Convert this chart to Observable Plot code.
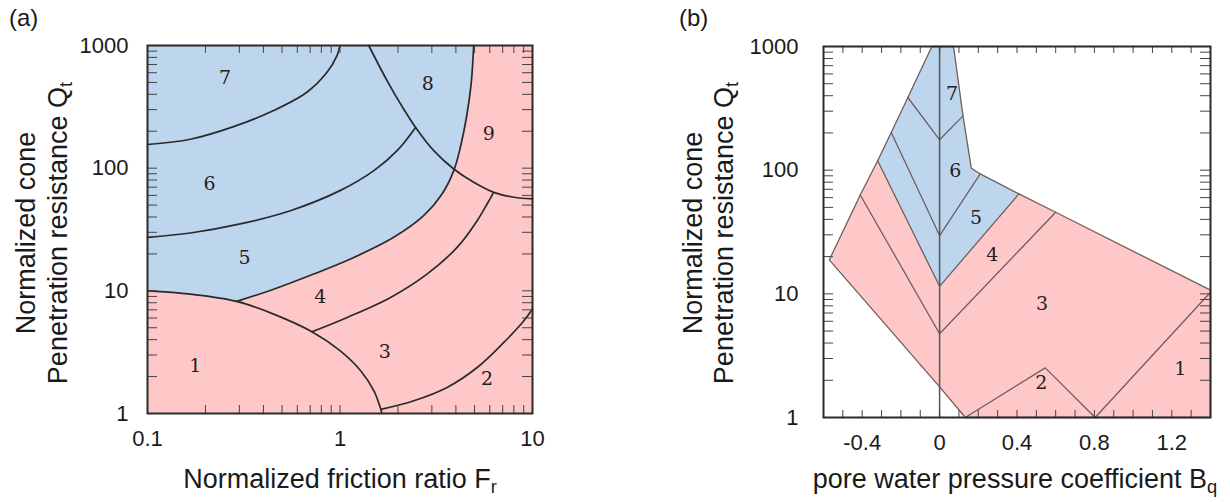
<!DOCTYPE html>
<html><head><meta charset="utf-8">
<script src="https://cdn.jsdelivr.net/npm/d3@7"></script>
<script src="https://cdn.jsdelivr.net/npm/@observablehq/plot@0.6"></script>
<style>
body{margin:0;background:#fff;}
#wrap{position:relative;width:1230px;height:502px;font-family:"Liberation Sans",Arial,sans-serif;color:#1a1a1a;overflow:hidden;}
.svgbox{position:absolute;top:0;}
.lbl{position:absolute;white-space:nowrap;font-size:27px;line-height:1;}
.rot{transform:translate(-50%,-50%) rotate(-90deg);}
.ctr{transform:translate(-50%,-50%);}
.pan{position:absolute;font-size:24px;line-height:1;}
sub{font-size:68%;vertical-align:-0.32em;line-height:0;}
</style></head><body><div id="wrap"></div>
<script>
// ---------- Panel (a): Qt vs Fr (log-log) boundary curves [Fr, Qt] ----------
const a_b1  = [[0.1,10],[0.167,9.41],[0.291,8.2],[0.452,6.46],[0.715,4.64],[1.0,3.25],[1.28,2.23],[1.5,1.53],[1.63,1.08],[1.65,1.0]];
const a_b45 = [[0.291,8.2],[0.452,10.3],[0.73,13.7],[1.18,18.7],[1.9,27.3],[2.72,41],[3.39,61.6],[3.9,95.5],[4.22,148],[4.54,260],[4.8,486],[4.95,1000]];
const a_b56 = [[0.1,27.3],[0.167,29.6],[0.303,35.1],[0.552,45],[1.0,65.6],[1.5,95.5],[1.98,139],[2.47,215]];
const a_b67 = [[0.1,156],[0.167,172],[0.28,218],[0.452,295],[0.673,416],[0.856,605],[0.965,828],[1.0,1000]];
const a_b8  = [[1.41,1000],[1.755,518],[2.14,304],[2.47,215],[3.07,139],[3.9,98.5],[4.95,76.7],[6.29,63.5],[8.0,57.9],[10,56.1]];
const a_b34 = [[0.715,4.64],[1.09,6.07],[1.83,8.84],[2.83,13.7],[4.06,22.6],[5.16,37.3],[5.81,51],[6.24,62.4]];
const a_b23 = [[1.63,1.08],[2.42,1.27],[3.6,1.63],[5.16,2.37],[7.1,3.8],[9.02,5.7],[10,7.1]];
const a_zoneText = ["1","2","3","4","5","6","7","8","9"];
const a_zoneFr   = [0.177,5.81,1.71,0.79,0.319,0.21,0.253,2.86,5.93];
const a_zoneQt   = [2.45,1.91,3.2,9.0,18.7,75,541,486,190];
const a_xTicks = [0.1,0.2,0.3,0.4,0.5,0.6,0.7,0.8,0.9,1,2,3,4,5,6,7,8,9,10];
const a_xLabels = [0.1,1,10];

// ---------- Panel (b): Qt vs Bq (lin-log) polygons [Bq, Qt] ----------
const b_outer = [[-0.57,18.8],[-0.41,63],[-0.32,119],[-0.25,202],[-0.164,387],[-0.04,1000],[0.072,1000],[0.121,275],[0.164,103.5],[0.21,93.2],[0.41,64.3],[0.6,45.7],[1.4,10.7],[1.4,1],[0.133,1],[0,1.77],[-0.57,18.8]];
const b_blue  = [[-0.32,119],[-0.25,202],[-0.164,387],[-0.04,1000],[0.072,1000],[0.121,275],[0.164,103.5],[0.21,93.2],[0.41,64.3],[0,11.5],[-0.32,119]];
const b_c76 = [[-0.164,387],[0,176],[0.121,275]];
const b_c65 = [[-0.25,202],[0,29.6],[0.21,93.2]];
const b_c54 = [[-0.32,119],[0,11.5],[0.41,64.3]];
const b_c43 = [[-0.41,63],[0,4.76],[0.6,45.7]];
const b_c2  = [[0.133,1],[0.546,2.52],[0.804,1]];
const b_c1  = [[0.804,1],[1.4,10.3]];
const b_zero = [[0,1],[0,1000]];
const b_zoneText = ["1","2","3","4","5","6","7"];
const b_zoneBq   = [1.244,0.525,0.53,0.272,0.188,0.081,0.064];
const b_zoneQt   = [2.49,1.92,8.3,20.7,41,98,417];
const b_xTicks = [-0.5,-0.4,-0.3,-0.2,-0.1,0,0.1,0.2,0.3,0.4,0.5,0.6,0.7,0.8,0.9,1.0,1.1,1.2,1.3];
const b_xLabels = [-0.4,0,0.4,0.8,1.2];

const yTicks = [1,2,3,4,5,6,7,8,9,10,20,30,40,50,60,70,80,90,100,200,300,400,500,600,700,800,900,1000];
const yLabels = [1,10,100,1000];

const PINK = "#ffc8c8", BLUE = "#bdd6ed";
const X = d => d[0], Y = d => d[1];

function ticksMarks(xt, yt, fw, fh, xl, yl) {
  const s = {stroke: "#444", strokeWidth: 1};
  return [
    Plot.tickX(xt, {x: d => d, insetTop: fh - xl, ...s}),
    Plot.tickX(xt, {x: d => d, insetBottom: fh - xl, ...s}),
    Plot.tickY(yt, {y: d => d, insetRight: fw - yl, ...s}),
    Plot.tickY(yt, {y: d => d, insetLeft: fw - yl, ...s})
  ];
}

// Panel a
const A = {w: 615, h: 502, ml: 147, mr: 83, mt: 45, mb: 89};
const Afw = A.w - A.ml - A.mr, Afh = A.h - A.mt - A.mb;
const lineA = {x: X, y: Y, stroke: "#2a2a2a", strokeWidth: 1.7, curve: "catmull-rom"};
const a_blue = [[0.1,1000], ...a_b45.slice().reverse(), ...a_b1.slice(0,2).reverse()];
const plotA = Plot.plot({
  width: A.w, height: A.h, marginLeft: A.ml, marginRight: A.mr, marginTop: A.mt, marginBottom: A.mb,
  x: {type: "log", domain: [0.1, 10]},
  y: {type: "log", domain: [1, 1000]},
  style: {fontFamily: "'Liberation Sans', Arial, sans-serif", background: "transparent", color: "#1a1a1a"},
  marks: [
    Plot.frame({fill: PINK}),
    Plot.line(a_blue, {x: X, y: Y, fill: BLUE, stroke: "none"}),
    Plot.line(a_b1, lineA), Plot.line(a_b45, lineA), Plot.line(a_b56, lineA),
    Plot.line(a_b67, lineA), Plot.line(a_b8, lineA), Plot.line(a_b34, lineA), Plot.line(a_b23, lineA),
    ...ticksMarks(a_xTicks, yTicks, Afw, Afh, 8, 10),
    Plot.text(a_zoneText, {x: (d, i) => a_zoneFr[i], y: (d, i) => a_zoneQt[i], text: d => d,
      fontFamily: "DejaVu Serif", fontSize: 19, fill: "#222"}),
    Plot.axisX({anchor: "bottom", ticks: a_xLabels, tickSize: 0, tickPadding: 17, tickFormat: d => String(d), fontSize: 22, label: null}),
    Plot.axisY({anchor: "left", ticks: yLabels, tickSize: 0, tickPadding: 19, tickFormat: d => String(d), fontSize: 22, label: null}),
    Plot.frame({stroke: "#2a2a2a", strokeWidth: 2})
  ]
});

// Panel b
const B = {w: 615, h: 502, ml: 208, mr: 20, mt: 46, mb: 85};
const Bfw = B.w - B.ml - B.mr, Bfh = B.h - B.mt - B.mb;
const lineB = {x: X, y: Y, stroke: "#6f5e5e", strokeWidth: 1.3};
const plotB = Plot.plot({
  width: B.w, height: B.h, marginLeft: B.ml, marginRight: B.mr, marginTop: B.mt, marginBottom: B.mb,
  x: {domain: [-0.6, 1.4]},
  y: {type: "log", domain: [1, 1000]},
  style: {fontFamily: "'Liberation Sans', Arial, sans-serif", background: "transparent", color: "#1a1a1a"},
  marks: [
    Plot.line(b_outer, {x: X, y: Y, fill: PINK, stroke: "none"}),
    Plot.line(b_blue, {x: X, y: Y, fill: BLUE, stroke: "none"}),
    Plot.line(b_outer, lineB),
    Plot.line(b_c76, lineB), Plot.line(b_c65, lineB), Plot.line(b_c54, lineB), Plot.line(b_c43, lineB),
    Plot.line(b_c2, lineB), Plot.line(b_c1, lineB),
    Plot.line(b_zero, {x: X, y: Y, stroke: "#555", strokeWidth: 1.5}),
    ...ticksMarks(b_xTicks, yTicks, Bfw, Bfh, 7, 10),
    Plot.text(b_zoneText, {x: (d, i) => b_zoneBq[i], y: (d, i) => b_zoneQt[i], text: d => d,
      fontFamily: "DejaVu Serif", fontSize: 19, fill: "#222"}),
    Plot.axisX({anchor: "bottom", ticks: b_xLabels, tickSize: 0, tickPadding: 17, tickFormat: d => d === 0 ? "0" : d.toFixed(1), fontSize: 22, label: null}),
    Plot.axisY({anchor: "left", ticks: yLabels, tickSize: 0, tickPadding: 25, tickFormat: d => String(d), fontSize: 22, label: null}),
    Plot.frame({stroke: "#2a2a2a", strokeWidth: 2})
  ]
});

const wrap = document.getElementById("wrap");
const boxA = document.createElement("div"); boxA.className = "svgbox"; boxA.style.left = "0px"; boxA.appendChild(plotA); wrap.appendChild(boxA);
const boxB = document.createElement("div"); boxB.className = "svgbox"; boxB.style.left = "615px"; boxB.appendChild(plotB); wrap.appendChild(boxB);

function addLabel(html, cx, cy, cls) {
  const el = document.createElement("div");
  el.className = "lbl " + cls;
  el.innerHTML = html;
  el.style.left = cx + "px"; el.style.top = cy + "px";
  wrap.appendChild(el);
}
function addPanel(txt, x, y) {
  const el = document.createElement("div");
  el.className = "pan"; el.textContent = txt;
  el.style.left = x + "px"; el.style.top = y + "px";
  wrap.appendChild(el);
}
addPanel("(a)", 9, 6);
addPanel("(b)", 679, 6);
addLabel("Normalized friction ratio F<sub>r</sub>", 340, 479, "ctr");
addLabel("pore water pressure coefficient B<sub>q</sub>", 1015, 479, "ctr");
addLabel("Normalized cone", 26, 233, "rot");
addLabel("Penetration resistance Q<sub>t</sub>", 58, 233, "rot");
addLabel("Normalized cone", 693, 233, "rot");
addLabel("Penetration resistance Q<sub>t</sub>", 724, 233, "rot");
</script></body></html>
